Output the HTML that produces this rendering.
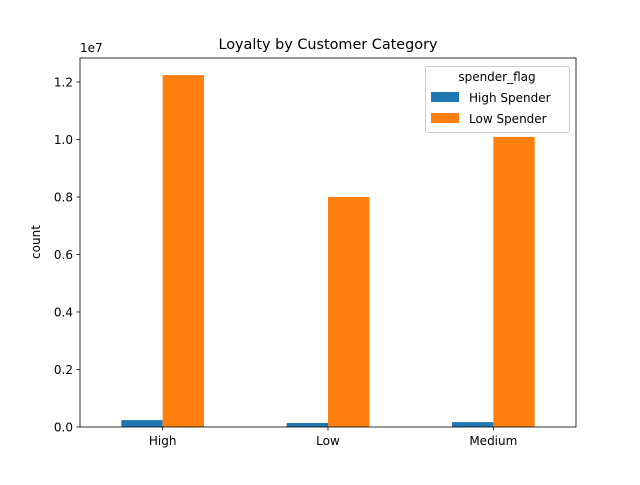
<!DOCTYPE html>
<html><head><meta charset="utf-8"><style>
body{margin:0;background:#fff;font-family:"Liberation Sans","DejaVu Sans",sans-serif;}
svg text{font-family:"DejaVu Sans","Liberation Sans",sans-serif;}
</style></head><body>
<svg id="c" width="640" height="480" xmlns="http://www.w3.org/2000/svg">
<rect width="640" height="480" fill="#fff"/>
<text x="328" y="49" font-size="14.4" text-anchor="middle">Loyalty by Customer Category</text>
<g id="bars"></g>
<rect x="80" y="58" width="496" height="369" fill="none" stroke="#000" stroke-width="0.8"/>
<g id="axes"></g>
<text x="40" y="242" font-size="12" text-anchor="middle" transform="rotate(-90 40 242)">count</text>
<text x="80" y="52" font-size="12">1e7</text>
<g>
<rect x="425.5" y="66.5" width="144" height="66" rx="2" fill="#fff" fill-opacity="0.8" stroke="#ccc"/>
<text x="497" y="81" font-size="12" text-anchor="middle">spender_flag</text>
<rect x="431" y="92" width="28" height="10" fill="#1f77b4"/>
<text x="469" y="102" font-size="12">High Spender</text>
<rect x="431" y="113" width="28" height="10" fill="#ff7f0e"/>
<text x="469" y="123" font-size="12">Low Spender</text>
</g>
</svg>
<script>
const categories=["High","Low","Medium"];
const highSpender=[0.024,0.014,0.017];
const lowSpender=[1.224,0.800,1.009];
const yTicks=[0,0.2,0.4,0.6,0.8,1.0,1.2];
const yTickLabels=["0.0","0.2","0.4","0.6","0.8","1.0","1.2"];
const NS="http://www.w3.org/2000/svg";
const x0=80,x1=576,y0=427,pxPer=287.5;
const xs=i=>x0+(i+0.5)*(x1-x0)/categories.length;
const ys=v=>y0-v*pxPer;
const bw=(x1-x0)/categories.length*0.25;
const bars=document.getElementById('bars'),axes=document.getElementById('axes');
function mk(t,a,p){const e=document.createElementNS(NS,t);for(const k in a)e.setAttribute(k,a[k]);p.appendChild(e);return e;}
categories.forEach((c,i)=>{
 const cx=xs(i);
 const b1=mk('rect',{x:cx-bw,y:ys(highSpender[i]),width:bw,height:y0-ys(highSpender[i]),fill:'#1f77b4'},bars);
 
 
 const b2=mk('rect',{x:cx,y:ys(lowSpender[i]),width:bw,height:y0-ys(lowSpender[i]),fill:'#ff7f0e'},bars);
 
 
 mk('line',{x1:cx,x2:cx,y1:y0,y2:y0+3.5,stroke:'#000','stroke-width':0.8},axes);
 const t=mk('text',{x:cx,y:y0+18,'font-size':12,'text-anchor':'middle'},axes);
 t.textContent=c;
 
 
});
yTicks.forEach((v,i)=>{
 const y=ys(v);
 mk('line',{x1:x0-3.5,x2:x0,y1:y,y2:y,stroke:'#000','stroke-width':0.8},axes);
 const t=mk('text',{x:x0-7,y:y+4.5,'font-size':12,'text-anchor':'end'},axes);
 t.textContent=yTickLabels[i];
 
 
});
</script>
</body></html>
